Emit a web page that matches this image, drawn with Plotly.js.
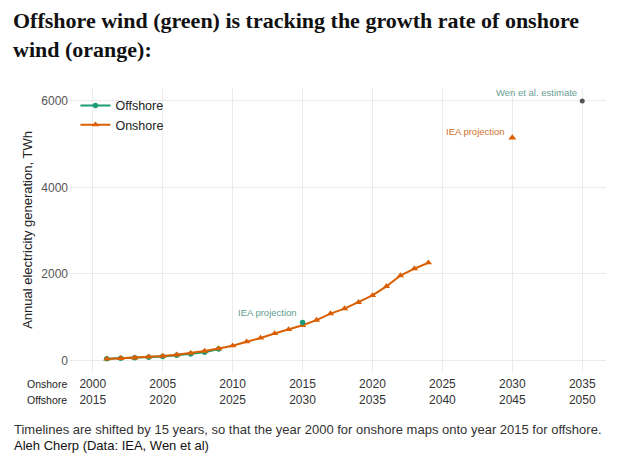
<!DOCTYPE html>
<html>
<head>
<meta charset="utf-8">
<script src="https://cdn.plot.ly/plotly-3.0.1.min.js"></script>
<style>html,body{margin:0;padding:0;background:#fff;}#chart{width:621px;height:463px;}</style>
</head>
<body>
<div id="chart"></div>
<script>
// Onshore wind generation (TWh), actual years
const onshoreYears = [2001,2002,2003,2004,2005,2006,2007,2008,2009,2010,2011,2012,2013,2014,2015,2016,2017,2018,2019,2020,2021,2022,2023,2024];
const onshoreTWh   = [38,52,63,85,104,133,171,220,276,342,436,521,625,720,815,935,1085,1200,1345,1505,1715,1965,2125,2260];
// Offshore wind generation (TWh), actual years
const offshoreYears = [2016,2017,2018,2019,2020,2021,2022,2023,2024];
const offshoreTWh   = [40,52,62,75,92,120,150,190,268];
const yearShift = 15;
// Projections
const onshoreProjYear = [2030];
const onshoreProjTWh = [5150];
const offshoreProjYear = [2030];
const offshoreProjTWh = [880];
const wenYear = [2050];
const wenTWh = [6000];
// Axis ticks
const onshoreTickYears = [2000,2005,2010,2015,2020,2025,2030,2035];
const yTicks = [0,2000,4000,6000];

const GREEN = '#1B9E77', ORANGE = '#D95F02';
const shifted = a => a.map(v => v - yearShift);

const traces = [
  {x: shifted(offshoreYears), y: offshoreTWh, name: 'Offshore', mode: 'lines+markers',
   line: {color: GREEN, width: 2}, marker: {symbol: 'circle', size: 5.5, color: GREEN}},
  {x: onshoreYears, y: onshoreTWh, name: 'Onshore', mode: 'lines+markers',
   line: {color: ORANGE, width: 2}, marker: {symbol: 'triangle-up', size: 6.5, color: ORANGE}},
  {x: shifted(offshoreProjYear), y: offshoreProjTWh, mode: 'markers', showlegend: false,
   marker: {symbol: 'circle', size: 5.5, color: GREEN}},
  {x: onshoreProjYear, y: onshoreProjTWh, mode: 'markers', showlegend: false,
   marker: {symbol: 'triangle-up', size: 7, color: ORANGE}},
  {x: shifted(wenYear), y: wenTWh, mode: 'markers', showlegend: false,
   marker: {symbol: 'circle', size: 5, color: '#555'}}
];

const sans = 'Liberation Sans, Arial, sans-serif';
const H = 284, W = 537, L = 69, B = 372;
const py = Y => (B - Y) / H;   // pixel row -> paper y
const px = X => (X - L) / W;   // pixel col -> paper x

const layout = {
  width: 621, height: 463,
  margin: {l: 69, r: 15, t: 88, b: 91},
  paper_bgcolor: '#fff', plot_bgcolor: '#fff',
  font: {family: sans, size: 12, color: '#4d4d4d'},
  showlegend: true,
  legend: {x: 0.012, y: 0.99, xanchor: 'left', yanchor: 'top', bgcolor: 'rgba(255,255,255,0)',
           font: {family: sans, size: 12.5, color: '#222'}, tracegroupgap: 2},
  xaxis: {
    range: [1998.3, 2036.7], tickvals: onshoreTickYears,
    ticktext: onshoreTickYears.map(y => y + '<br>' + (y + yearShift)),
    showgrid: true, gridcolor: '#ebebeb', gridwidth: 1, zeroline: false, showline: false,
    ticks: '', ticklabelstandoff: 3, tickfont: {family: sans, size: 12, color: '#333'}, automargin: false
  },
  yaxis: {
    range: [-265, 6298], tickvals: yTicks, showgrid: true, gridcolor: '#ebebeb', gridwidth: 1,
    zeroline: false, showline: false, ticks: '', tickfont: {family: sans, size: 12, color: '#555'},
    title: {text: 'Annual electricity generation, TWh', font: {family: sans, size: 13, color: '#222'}, standoff: 5},
    automargin: false
  },
  annotations: [
    {xref: 'paper', yref: 'paper', x: px(11), y: py(35), xanchor: 'left', yanchor: 'middle', align: 'left', showarrow: false,
     text: '<b>Offshore wind (green) is tracking the growth rate of onshore<br>wind (orange):</b>',
     font: {family: 'Liberation Serif, serif', size: 22, color: '#111'}},
    {xref: 'paper', yref: 'paper', x: 0, y: py(384), xanchor: 'right', yanchor: 'middle', showarrow: false,
     text: 'Onshore', font: {family: sans, size: 10.5, color: '#222'}},
    {xref: 'paper', yref: 'paper', x: 0, y: py(400), xanchor: 'right', yanchor: 'middle', showarrow: false,
     text: 'Offshore', font: {family: sans, size: 10.5, color: '#222'}},
    {x: offshoreProjYear[0] - yearShift, y: offshoreProjTWh[0], xanchor: 'right', yanchor: 'bottom', showarrow: false,
     xshift: -4, yshift: 2, text: 'IEA projection', font: {family: sans, size: 9.5, color: '#5f9c91'}},
    {x: onshoreProjYear[0], y: onshoreProjTWh[0], xanchor: 'right', yanchor: 'bottom', showarrow: false,
     xshift: -5, yshift: -1, text: 'IEA projection', font: {family: sans, size: 9.5, color: '#cf6f2a'}},
    {x: wenYear[0] - yearShift, y: wenTWh[0], xanchor: 'right', yanchor: 'bottom', showarrow: false,
     xshift: -3, yshift: 1, text: 'Wen et al. estimate', font: {family: sans, size: 9.5, color: '#6a9e95'}},
    {xref: 'paper', yref: 'paper', x: px(12), y: py(429), xanchor: 'left', yanchor: 'middle', showarrow: false,
     text: 'Timelines are shifted by 15 years, so that the year 2000 for onshore maps onto year 2015 for offshore.',
     font: {family: sans, size: 13, color: '#333'}},
    {xref: 'paper', yref: 'paper', x: px(12), y: py(446), xanchor: 'left', yanchor: 'middle', showarrow: false,
     text: 'Aleh Cherp (Data: IEA, Wen et al)', font: {family: sans, size: 13, color: '#111'}}
  ]
};

Plotly.newPlot('chart', traces, layout, {displayModeBar: false, staticPlot: true});
</script>
</body>
</html>
